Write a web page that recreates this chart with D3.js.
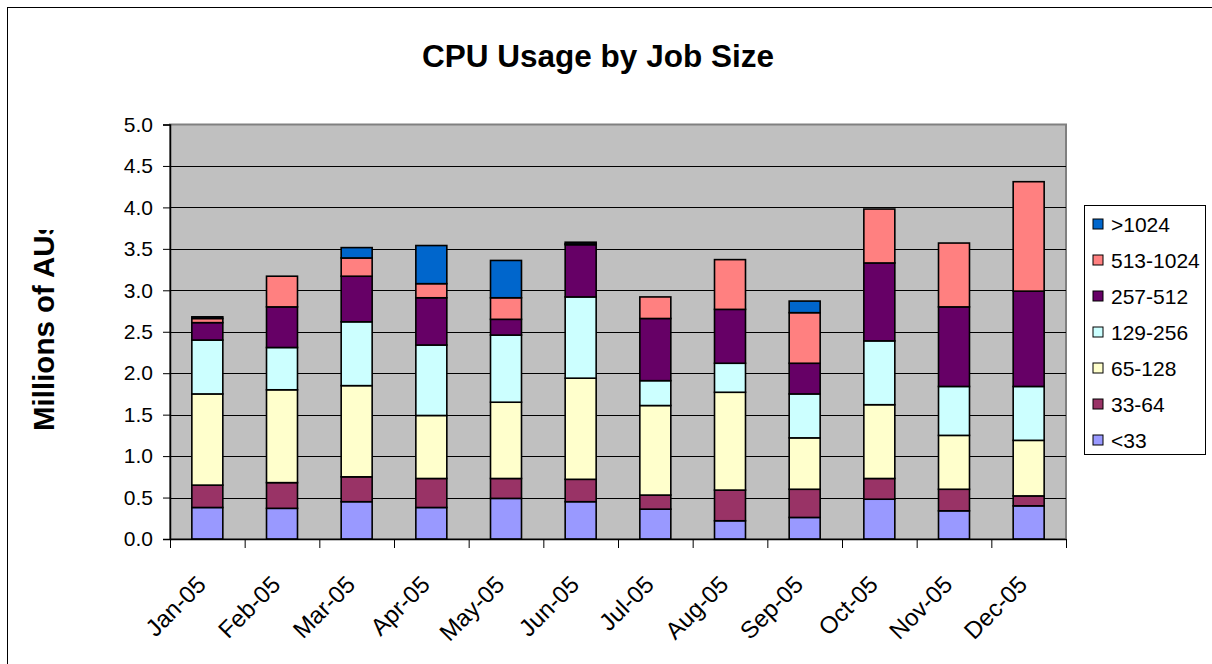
<!DOCTYPE html>
<html>
<head>
<meta charset="utf-8">
<script src="https://cdn.jsdelivr.net/npm/d3@7"></script>
<style>
  body { margin: 0; background: #fff; }
  text { font-family: "Liberation Sans", Arial, sans-serif; }
</style>
</head>
<body>
<div id="chart"></div>
<script>
// data (millions of AUs)
var months = ["Jan-05", "Feb-05", "Mar-05", "Apr-05", "May-05", "Jun-05",
  "Jul-05", "Aug-05", "Sep-05", "Oct-05", "Nov-05", "Dec-05"];
var seriesNames = ["<33", "33-64", "65-128", "129-256", "257-512", "513-1024", ">1024"];
var seriesColors = ["#9999FF", "#993366", "#FFFFCC", "#CCFFFF", "#660066", "#FF8080", "#0066CC"];

var lt33 = [0.38, 0.37, 0.45, 0.38, 0.49, 0.45, 0.36, 0.22, 0.26, 0.48, 0.34, 0.40];
var s33to64 = [0.27, 0.31, 0.30, 0.35, 0.24, 0.27, 0.17, 0.37, 0.34, 0.25, 0.26, 0.12];
var s65to128 = [1.10, 1.12, 1.10, 0.76, 0.92, 1.22, 1.08, 1.18, 0.62, 0.89, 0.65, 0.67];
var s129to256 = [0.65, 0.51, 0.77, 0.85, 0.81, 0.98, 0.30, 0.35, 0.53, 0.77, 0.59, 0.65];
var s257to512 = [0.21, 0.49, 0.55, 0.57, 0.19, 0.63, 0.75, 0.65, 0.37, 0.94, 0.96, 1.15];
var s513to1024 = [0.05, 0.37, 0.22, 0.17, 0.26, 0.01, 0.26, 0.60, 0.61, 0.65, 0.77, 1.32];
var gt1024 = [0.02, 0, 0.125, 0.46, 0.45, 0.02, 0, 0, 0.14, 0, 0, 0];

var yTicks = [0, 0.5, 1, 1.5, 2, 2.5, 3, 3.5, 4, 4.5, 5];

var allSeries = [lt33, s33to64, s65to128, s129to256, s257to512, s513to1024, gt1024];

var width = 1212, height = 664;
var plot = { left: 170, top: 124.5, right: 1066, bottom: 539 };

var svg = d3.select("#chart").append("svg")
  .attr("width", width)
  .attr("height", height);

// outer chart border (runs off the right and bottom edges)
svg.append("rect")
  .attr("x", 7.5).attr("y", 7.5)
  .attr("width", 1230).attr("height", 700)
  .attr("fill", "#fff")
  .attr("stroke", "#000")
  .attr("stroke-width", 1);

var table = months.map(function(m, i) {
  var row = { month: m };
  seriesNames.forEach(function(s, j) { row[s] = allSeries[j][i]; });
  return row;
});
var stacked = d3.stack().keys(seriesNames)(table);

var xScale = d3.scaleBand()
  .domain(months)
  .range([plot.left, plot.right])
  .paddingInner(0.585)
  .paddingOuter(0.2925);

var xEdges = d3.scaleLinear().domain([0, months.length]).range([plot.left, plot.right]);

var yScale = d3.scaleLinear().domain([0, 5]).range([plot.bottom, plot.top]);

// plot area
svg.append("rect")
  .attr("x", plot.left).attr("y", plot.top)
  .attr("width", plot.right - plot.left)
  .attr("height", plot.bottom - plot.top)
  .attr("fill", "#C0C0C0")
  .attr("stroke", "#808080")
  .attr("stroke-width", 2);

// gridlines
svg.append("g")
  .selectAll("line")
  .data(yTicks.slice(1, -1))
  .enter()
  .append("line")
  .attr("x1", plot.left).attr("x2", plot.right)
  .attr("y1", function(d) { return Math.round(yScale(d)) + 0.5; })
  .attr("y2", function(d) { return Math.round(yScale(d)) + 0.5; })
  .attr("stroke", "#000")
  .attr("stroke-width", 1);

// bars
svg.append("g")
  .selectAll("g")
  .data(stacked)
  .enter()
  .append("g")
  .attr("fill", function(d, i) { return seriesColors[i]; })
  .selectAll("rect")
  .data(function(d) { return d.filter(function(p) { return p[1] - p[0] > 0; }); })
  .enter()
  .append("rect")
  .attr("x", function(d) { return xScale(d.data.month); })
  .attr("width", xScale.bandwidth())
  .attr("y", function(d) { return yScale(d[1]); })
  .attr("height", function(d) { return yScale(d[0]) - yScale(d[1]); })
  .attr("stroke", "#000")
  .attr("stroke-width", 1.6);

// y axis
var yAxis = d3.axisLeft(yScale)
  .tickValues(yTicks)
  .tickFormat(d3.format(".1f"))
  .tickSize(7)
  .tickPadding(10);

svg.append("g")
  .attr("class", "y-axis")
  .attr("transform", "translate(" + plot.left + ",0)")
  .call(yAxis)
  .call(function(g) {
    g.select(".domain").attr("stroke", "#000").attr("stroke-width", 1.5);
    g.selectAll(".tick line").attr("stroke", "#000");
    g.selectAll("text")
      .style("font-size", "21px")
      .attr("fill", "#000");
  });

// x axis: ticks at category edges, labels rotated
var xAxis = d3.axisBottom(xEdges)
  .tickValues(d3.range(0, months.length + 1))
  .tickFormat("")
  .tickSize(9)
  .tickSizeOuter(0);

svg.append("g")
  .attr("class", "x-axis")
  .attr("transform", "translate(0," + plot.bottom + ")")
  .call(xAxis)
  .call(function(g) {
    g.select(".domain").attr("stroke", "#000").attr("stroke-width", 1.5);
    g.selectAll(".tick line").attr("stroke", "#000");
  });

svg.append("g")
  .selectAll("text")
  .data(months)
  .enter()
  .append("text")
  .text(function(d) { return d; })
  .attr("transform", function(d) {
    return "translate(" + (xScale(d) + xScale.bandwidth() / 2) + ",586) rotate(-45)";
  })
  .attr("text-anchor", "end")
  .style("font-size", "24px");

// title
svg.append("text")
  .text("CPU Usage by Job Size")
  .attr("x", 598)
  .attr("y", 67)
  .attr("text-anchor", "middle")
  .style("font-size", "31.5px")
  .style("font-weight", "bold");

// y axis title, clipped at the top like the original
svg.append("clipPath")
  .attr("id", "yclip")
  .append("rect")
  .attr("x", 0).attr("y", 230)
  .attr("width", 120).attr("height", 400);

svg.append("g")
  .attr("clip-path", "url(#yclip)")
  .append("text")
  .text("Millions of AUs")
  .attr("transform", "translate(54,431) rotate(-90)")
  .attr("text-anchor", "start")
  .style("font-size", "29.5px")
  .style("font-weight", "bold");

// legend
var legend = svg.append("g");
legend.append("rect")
  .attr("x", 1084.5).attr("y", 205.5)
  .attr("width", 121).attr("height", 249)
  .attr("fill", "#fff")
  .attr("stroke", "#000")
  .attr("stroke-width", 1);

var legendItems = legend.selectAll("g.item")
  .data(seriesNames.slice().reverse())
  .enter()
  .append("g")
  .attr("class", "item")
  .attr("transform", function(d, i) { return "translate(0," + (224 + i * 36) + ")"; });

legendItems.append("rect")
  .attr("x", 1093).attr("y", -5)
  .attr("width", 10).attr("height", 10)
  .attr("fill", function(d) { return seriesColors[seriesNames.indexOf(d)]; })
  .attr("stroke", "#000")
  .attr("stroke-width", 1);

legendItems.append("text")
  .text(function(d) { return d; })
  .attr("x", 1111)
  .attr("y", 7.5)
  .style("font-size", "21px");
</script>
</body>
</html>
